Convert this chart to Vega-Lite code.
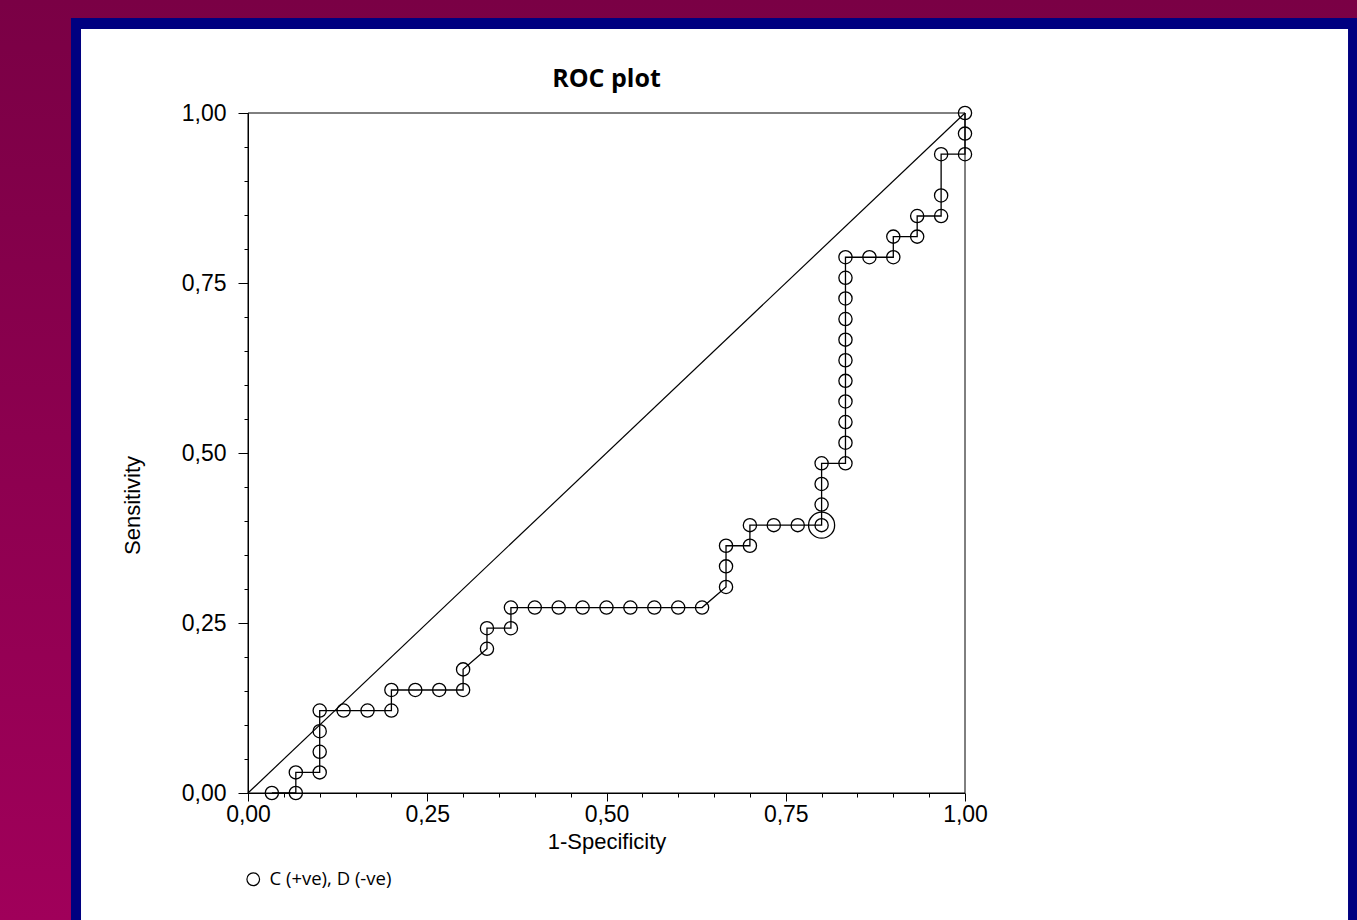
{
  "$schema": "https://vega.github.io/schema/vega-lite/v6.json",
  "width": 717,
  "height": 680,
  "autosize": {"type": "none"},
  "padding": {"left": 248, "top": 113, "right": 392, "bottom": 127},
  "background": "#7B0046",
  "title": {
    "text": "ROC plot",
    "font": "Open Sans",
    "fontSize": 25,
    "fontWeight": "bold",
    "color": "black",
    "anchor": "middle",
    "frame": "group",
    "baseline": "alphabetic",
    "offset": -112
  },
  "config": {
    "view": {"stroke": null},
    "axis": {"labelOverlap": false}
  },
  "layer": [
    {
      "data": {"values": [{}]},
      "mark": {
        "type": "rect",
        "fill": {
          "gradient": "linear",
          "x1": 0, "y1": 0, "x2": 0, "y2": 1,
          "stops": [
            {"offset": 0, "color": "#7A0045"},
            {"offset": 1, "color": "#A0005A"}
          ]
        }
      },
      "encoding": {
        "x": {"datum": -0.3459, "type": "quantitative", "scale": {"domain": [0, 1], "nice": false}},
        "x2": {"datum": 1.5468},
        "y": {"datum": 1.1662, "type": "quantitative", "scale": {"domain": [0, 1], "nice": false}},
        "y2": {"datum": -0.1868}
      }
    },
    {
      "data": {"values": [{}]},
      "mark": {"type": "rect", "fill": "#000080"},
      "encoding": {
        "x": {"datum": -0.2469, "type": "quantitative", "scale": {"domain": [0, 1], "nice": false}},
        "x2": {"datum": 1.5468},
        "y": {"datum": 1.1397, "type": "quantitative", "scale": {"domain": [0, 1], "nice": false}},
        "y2": {"datum": -0.1868}
      }
    },
    {
      "data": {"values": [{}]},
      "mark": {"type": "rect", "fill": "white"},
      "encoding": {
        "x": {"datum": -0.2329, "type": "quantitative", "scale": {"domain": [0, 1], "nice": false}},
        "x2": {"datum": 1.5342},
        "y": {"datum": 1.1235, "type": "quantitative", "scale": {"domain": [0, 1], "nice": false}},
        "y2": {"datum": -0.1868}
      }
    },
    {
      "data": {"values": [{}]},
      "mark": {"type": "rect", "fill": null, "stroke": "black", "strokeWidth": 1},
      "encoding": {
        "x": {"datum": 0, "type": "quantitative", "scale": {"domain": [0, 1], "nice": false}},
        "x2": {"datum": 1},
        "y": {"datum": 0, "type": "quantitative", "scale": {"domain": [0, 1], "nice": false}},
        "y2": {"datum": 1}
      }
    },
    {
      "data": {"values": [{}]},
      "mark": {"type": "rule", "color": "black", "strokeWidth": 1.2},
      "encoding": {
        "x": {"datum": 0, "type": "quantitative", "scale": {"domain": [0, 1], "nice": false}},
        "x2": {"datum": 1},
        "y": {"datum": 0, "type": "quantitative", "scale": {"domain": [0, 1], "nice": false}},
        "y2": {"datum": 1}
      }
    },
    {
      "data": {"name": "roc"},
      "mark": {"type": "line", "color": "black", "strokeWidth": 1.3},
      "encoding": {
        "x": {
          "field": "fpr", "type": "quantitative",
          "scale": {"domain": [0, 1], "nice": false},
          "axis": {
            "title": "1-Specificity",
            "values": [0, 0.05, 0.1, 0.15, 0.2, 0.25, 0.3, 0.35, 0.4, 0.45, 0.5, 0.55, 0.6, 0.65, 0.7, 0.75, 0.8, 0.85, 0.9, 0.95, 1],
            "tickCount": 50,
            "labelExpr": "abs(datum.value*4 - round(datum.value*4)) < 0.001 ? replace(format(datum.value, '.2f'), '.', ',') : ''",
            "tickSize": {"condition": {"test": "abs(datum.value*4 - round(datum.value*4)) < 0.001", "value": 8}, "value": 4},
            "tickColor": "black",
            "domainColor": "black",
            "grid": false,
            "labelFont": "Liberation Sans",
            "labelFontSize": 23,
            "labelColor": "black",
            "labelPadding": 2,
            "labelOverlap": false,
            "labelFlush": false,
            "labelBound": false,
            "titleFont": "Liberation Sans",
            "titleFontSize": 22,
            "titleFontWeight": "normal",
            "titleColor": "black",
            "titlePadding": 5,
            "zindex": 1
          }
        },
        "y": {
          "field": "tpr", "type": "quantitative",
          "scale": {"domain": [0, 1], "nice": false},
          "axis": {
            "title": "Sensitivity",
            "values": [0, 0.05, 0.1, 0.15, 0.2, 0.25, 0.3, 0.35, 0.4, 0.45, 0.5, 0.55, 0.6, 0.65, 0.7, 0.75, 0.8, 0.85, 0.9, 0.95, 1],
            "tickCount": 50,
            "labelExpr": "abs(datum.value*4 - round(datum.value*4)) < 0.001 ? replace(format(datum.value, '.2f'), '.', ',') : ''",
            "tickSize": {"condition": {"test": "abs(datum.value*4 - round(datum.value*4)) < 0.001", "value": 10}, "value": 4},
            "tickColor": "black",
            "domainColor": "black",
            "grid": false,
            "labelFont": "Liberation Sans",
            "labelFontSize": 23,
            "labelColor": "black",
            "labelPadding": 12,
            "labelOverlap": false,
            "labelFlush": false,
            "labelBound": false,
            "titleFont": "Liberation Sans",
            "titleFontSize": 22,
            "titleFontWeight": "normal",
            "titleColor": "black",
            "titlePadding": 37,
            "titleY": 392,
            "zindex": 1
          }
        },
        "order": {"field": "o", "type": "quantitative"}
      }
    },
    {
      "data": {"name": "roc"},
      "mark": {"type": "point", "shape": "circle", "filled": false, "color": "black", "size": 175, "strokeWidth": 1.3, "opacity": 1},
      "encoding": {
        "x": {"field": "fpr", "type": "quantitative", "scale": {"domain": [0, 1], "nice": false}},
        "y": {"field": "tpr", "type": "quantitative", "scale": {"domain": [0, 1], "nice": false}},
        "shape": {
          "field": "s", "type": "nominal",
          "scale": {"range": ["circle"]},
          "legend": {
            "title": null,
            "orient": "none",
            "legendX": -4,
            "legendY": 757,
            "padding": 0,
            "labelFont": "Open Sans",
            "labelFontSize": 18.5,
            "labelColor": "black",
            "labelOffset": 7,
            "symbolSize": 160,
            "symbolStrokeWidth": 1.2,
            "symbolStrokeColor": "black",
            "symbolFillColor": "transparent"
          }
        }
      }
    },
    {
      "data": {"values": [{"fpr": 0.8, "tpr": 0.3939}]},
      "mark": {"type": "point", "shape": "circle", "filled": false, "color": "black", "size": 680, "strokeWidth": 1.3, "opacity": 1},
      "encoding": {
        "x": {"field": "fpr", "type": "quantitative", "scale": {"domain": [0, 1], "nice": false}},
        "y": {"field": "tpr", "type": "quantitative", "scale": {"domain": [0, 1], "nice": false}}
      }
    }
  ],
  "datasets": {
    "roc": [
      {"o": 1, "fpr": 0.0333, "tpr": 0, "s": "C (+ve), D (-ve)"},
      {"o": 2, "fpr": 0.0667, "tpr": 0, "s": "C (+ve), D (-ve)"},
      {"o": 3, "fpr": 0.0667, "tpr": 0.0303, "s": "C (+ve), D (-ve)"},
      {"o": 4, "fpr": 0.1, "tpr": 0.0303, "s": "C (+ve), D (-ve)"},
      {"o": 5, "fpr": 0.1, "tpr": 0.0606, "s": "C (+ve), D (-ve)"},
      {"o": 6, "fpr": 0.1, "tpr": 0.0909, "s": "C (+ve), D (-ve)"},
      {"o": 7, "fpr": 0.1, "tpr": 0.1212, "s": "C (+ve), D (-ve)"},
      {"o": 8, "fpr": 0.1333, "tpr": 0.1212, "s": "C (+ve), D (-ve)"},
      {"o": 9, "fpr": 0.1667, "tpr": 0.1212, "s": "C (+ve), D (-ve)"},
      {"o": 10, "fpr": 0.2, "tpr": 0.1212, "s": "C (+ve), D (-ve)"},
      {"o": 11, "fpr": 0.2, "tpr": 0.1515, "s": "C (+ve), D (-ve)"},
      {"o": 12, "fpr": 0.2333, "tpr": 0.1515, "s": "C (+ve), D (-ve)"},
      {"o": 13, "fpr": 0.2667, "tpr": 0.1515, "s": "C (+ve), D (-ve)"},
      {"o": 14, "fpr": 0.3, "tpr": 0.1515, "s": "C (+ve), D (-ve)"},
      {"o": 15, "fpr": 0.3, "tpr": 0.1818, "s": "C (+ve), D (-ve)"},
      {"o": 16, "fpr": 0.3333, "tpr": 0.2121, "s": "C (+ve), D (-ve)"},
      {"o": 17, "fpr": 0.3333, "tpr": 0.2424, "s": "C (+ve), D (-ve)"},
      {"o": 18, "fpr": 0.3667, "tpr": 0.2424, "s": "C (+ve), D (-ve)"},
      {"o": 19, "fpr": 0.3667, "tpr": 0.2727, "s": "C (+ve), D (-ve)"},
      {"o": 20, "fpr": 0.4, "tpr": 0.2727, "s": "C (+ve), D (-ve)"},
      {"o": 21, "fpr": 0.4333, "tpr": 0.2727, "s": "C (+ve), D (-ve)"},
      {"o": 22, "fpr": 0.4667, "tpr": 0.2727, "s": "C (+ve), D (-ve)"},
      {"o": 23, "fpr": 0.5, "tpr": 0.2727, "s": "C (+ve), D (-ve)"},
      {"o": 24, "fpr": 0.5333, "tpr": 0.2727, "s": "C (+ve), D (-ve)"},
      {"o": 25, "fpr": 0.5667, "tpr": 0.2727, "s": "C (+ve), D (-ve)"},
      {"o": 26, "fpr": 0.6, "tpr": 0.2727, "s": "C (+ve), D (-ve)"},
      {"o": 27, "fpr": 0.6333, "tpr": 0.2727, "s": "C (+ve), D (-ve)"},
      {"o": 28, "fpr": 0.6667, "tpr": 0.303, "s": "C (+ve), D (-ve)"},
      {"o": 29, "fpr": 0.6667, "tpr": 0.3333, "s": "C (+ve), D (-ve)"},
      {"o": 30, "fpr": 0.6667, "tpr": 0.3636, "s": "C (+ve), D (-ve)"},
      {"o": 31, "fpr": 0.7, "tpr": 0.3636, "s": "C (+ve), D (-ve)"},
      {"o": 32, "fpr": 0.7, "tpr": 0.3939, "s": "C (+ve), D (-ve)"},
      {"o": 33, "fpr": 0.7333, "tpr": 0.3939, "s": "C (+ve), D (-ve)"},
      {"o": 34, "fpr": 0.7667, "tpr": 0.3939, "s": "C (+ve), D (-ve)"},
      {"o": 35, "fpr": 0.8, "tpr": 0.3939, "s": "C (+ve), D (-ve)"},
      {"o": 36, "fpr": 0.8, "tpr": 0.4242, "s": "C (+ve), D (-ve)"},
      {"o": 37, "fpr": 0.8, "tpr": 0.4545, "s": "C (+ve), D (-ve)"},
      {"o": 38, "fpr": 0.8, "tpr": 0.4848, "s": "C (+ve), D (-ve)"},
      {"o": 39, "fpr": 0.8333, "tpr": 0.4848, "s": "C (+ve), D (-ve)"},
      {"o": 40, "fpr": 0.8333, "tpr": 0.5152, "s": "C (+ve), D (-ve)"},
      {"o": 41, "fpr": 0.8333, "tpr": 0.5455, "s": "C (+ve), D (-ve)"},
      {"o": 42, "fpr": 0.8333, "tpr": 0.5758, "s": "C (+ve), D (-ve)"},
      {"o": 43, "fpr": 0.8333, "tpr": 0.6061, "s": "C (+ve), D (-ve)"},
      {"o": 44, "fpr": 0.8333, "tpr": 0.6364, "s": "C (+ve), D (-ve)"},
      {"o": 45, "fpr": 0.8333, "tpr": 0.6667, "s": "C (+ve), D (-ve)"},
      {"o": 46, "fpr": 0.8333, "tpr": 0.697, "s": "C (+ve), D (-ve)"},
      {"o": 47, "fpr": 0.8333, "tpr": 0.7273, "s": "C (+ve), D (-ve)"},
      {"o": 48, "fpr": 0.8333, "tpr": 0.7576, "s": "C (+ve), D (-ve)"},
      {"o": 49, "fpr": 0.8333, "tpr": 0.7879, "s": "C (+ve), D (-ve)"},
      {"o": 50, "fpr": 0.8667, "tpr": 0.7879, "s": "C (+ve), D (-ve)"},
      {"o": 51, "fpr": 0.9, "tpr": 0.7879, "s": "C (+ve), D (-ve)"},
      {"o": 52, "fpr": 0.9, "tpr": 0.8182, "s": "C (+ve), D (-ve)"},
      {"o": 53, "fpr": 0.9333, "tpr": 0.8182, "s": "C (+ve), D (-ve)"},
      {"o": 54, "fpr": 0.9333, "tpr": 0.8485, "s": "C (+ve), D (-ve)"},
      {"o": 55, "fpr": 0.9667, "tpr": 0.8485, "s": "C (+ve), D (-ve)"},
      {"o": 56, "fpr": 0.9667, "tpr": 0.8788, "s": "C (+ve), D (-ve)"},
      {"o": 57, "fpr": 0.9667, "tpr": 0.9394, "s": "C (+ve), D (-ve)"},
      {"o": 58, "fpr": 1, "tpr": 0.9394, "s": "C (+ve), D (-ve)"},
      {"o": 59, "fpr": 1, "tpr": 0.9697, "s": "C (+ve), D (-ve)"},
      {"o": 60, "fpr": 1, "tpr": 1, "s": "C (+ve), D (-ve)"}
    ]
  }
}
